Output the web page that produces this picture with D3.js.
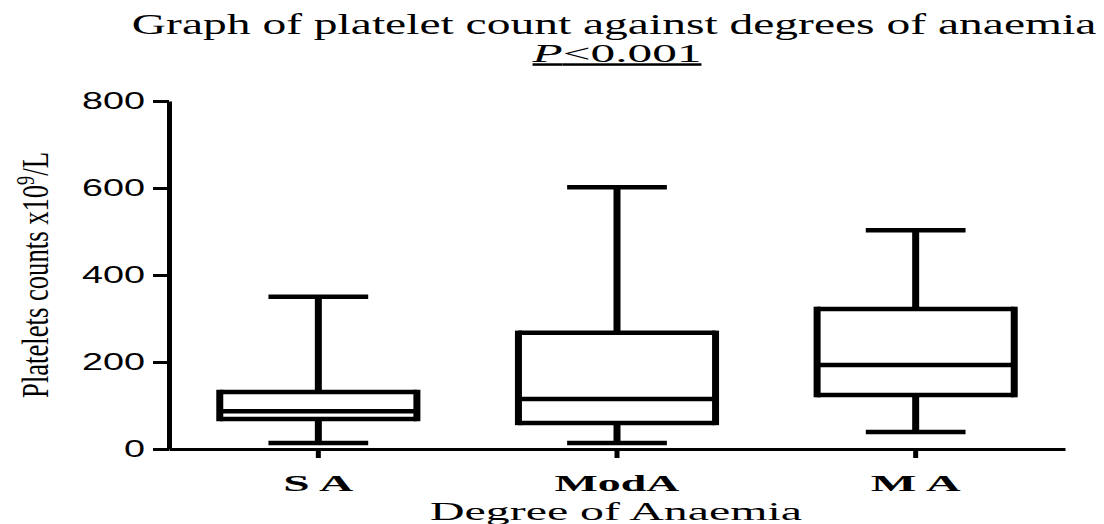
<!DOCTYPE html>
<html lang="en">
<head>
    <meta charset="UTF-8">
    <script src="https://d3js.org/d3.v7.min.js"></script>
    <title>Platelets vs anaemia</title>
    <style>
        body { margin: 0; background: #fff; }
        svg { display: block; }
        .serif { font-family: "Liberation Serif", "Times New Roman", serif; }
        .sans { font-family: "Liberation Sans", Arial, sans-serif; }
    </style>
</head>
<body>
    <div id="chart"></div>
    <script>
        // data
        var categories = ["S A", "ModA", "M A"];
        var mins = [14, 14, 39];
        var q1s = [69, 60, 124];
        var medians = [87, 115, 193];
        var q3s = [131, 267, 322];
        var maxs = [350, 602, 503];
        var yTicks = [0, 200, 400, 600, 800];

        var width = 1104, height = 524;

        var svg = d3.select("#chart")
            .append("svg")
            .attr("width", width)
            .attr("height", height);

        var x = d3.scaleBand()
            .domain(categories)
            .range([169, 1065]);

        var y = d3.scaleLinear()
            .domain([0, 800])
            .range([449, 101]);

        // picture is stretched sideways, so vertical strokes are thicker
        var vStroke = 7, hStroke = 4.5;
        var boxHalf = x.bandwidth() * 0.33;
        var capHalf = x.bandwidth() * 0.167;

        // helper: stretch a text horizontally to a given width
        function fit(t, px, py, w, rot) {
            var len = t.node().getComputedTextLength();
            var k = w / len;
            t.attr("transform", "translate(" + px + "," + py + ")" +
                (rot ? " rotate(" + rot + ")" : "") + " scale(" + k + ",1)");
        }

        // axes
        var yAxis = svg.append("g")
            .attr("transform", "translate(169,0)")
            .call(d3.axisLeft(y).tickValues(yTicks).tickSize(16).tickSizeOuter(0).tickFormat(""));
        yAxis.select(".domain").attr("stroke-width", 5).attr("stroke", "#000");
        yAxis.selectAll(".tick line").attr("stroke-width", 3).attr("stroke", "#000");

        var xAxis = svg.append("g")
            .attr("transform", "translate(0,449)")
            .call(d3.axisBottom(x).tickSize(9).tickSizeOuter(0).tickFormat(""));
        xAxis.select(".domain").attr("stroke-width", 3).attr("stroke", "#000");
        xAxis.selectAll(".tick line").attr("stroke-width", 5).attr("stroke", "#000");

        // y tick labels
        yTicks.forEach(function (d) {
            var t = svg.append("text")
                .attr("class", "sans")
                .attr("font-size", 23)
                .attr("text-anchor", "end")
                .attr("dy", "0.36em")
                .text(d);
            fit(t, 145, y(d), String(d).length * 21);
        });

        // boxes
        var boxes = svg.selectAll(".box")
            .data(categories)
            .enter().append("g")
            .attr("class", "box")
            .attr("stroke", "#000")
            .attr("fill", "none");

        boxes.each(function (c, i) {
            var g = d3.select(this);
            var cx = x(c) + x.bandwidth() / 2;
            // whiskers
            g.append("line").attr("x1", cx).attr("x2", cx)
                .attr("y1", y(q3s[i])).attr("y2", y(maxs[i])).attr("stroke-width", vStroke);
            g.append("line").attr("x1", cx).attr("x2", cx)
                .attr("y1", y(q1s[i])).attr("y2", y(mins[i])).attr("stroke-width", vStroke);
            // caps
            [maxs[i], mins[i]].forEach(function (v) {
                g.append("line").attr("x1", cx - capHalf).attr("x2", cx + capHalf)
                    .attr("y1", y(v)).attr("y2", y(v)).attr("stroke-width", hStroke);
            });
            // box top / bottom / median
            [q3s[i], q1s[i], medians[i]].forEach(function (v) {
                g.append("line").attr("x1", cx - boxHalf).attr("x2", cx + boxHalf)
                    .attr("y1", y(v)).attr("y2", y(v)).attr("stroke-width", hStroke);
            });
            // box sides
            [cx - boxHalf, cx + boxHalf].forEach(function (sx) {
                g.append("line").attr("x1", sx).attr("x2", sx)
                    .attr("y1", y(q3s[i]) - hStroke / 2).attr("y2", y(q1s[i]) + hStroke / 2)
                    .attr("stroke-width", vStroke);
            });
        });

        // category labels
        var catWidths = [70, 125, 90];
        categories.forEach(function (c, i) {
            var t = svg.append("text")
                .attr("class", "serif")
                .attr("font-size", 24)
                .attr("font-weight", "bold")
                .attr("text-anchor", "middle")
                .text(c);
            fit(t, x(c) + x.bandwidth() / 2, 491, catWidths[i]);
        });

        // titles
        var title = svg.append("text")
            .attr("class", "serif")
            .attr("font-size", 29)
            .attr("text-anchor", "middle")
            .text("Graph of platelet count against degrees of anaemia");
        fit(title, 614, 34, 965);

        var pval = svg.append("text")
            .attr("class", "serif")
            .attr("font-size", 25)
            .attr("text-anchor", "middle")
            .attr("text-decoration", "underline");
        pval.append("tspan").attr("font-style", "italic").text("P");
        pval.append("tspan").text("<0.001");
        fit(pval, 617, 62, 169);

        var xTitle = svg.append("text")
            .attr("class", "serif")
            .attr("font-size", 26)
            .attr("text-anchor", "middle")
            .text("Degree of Anaemia");
        fit(xTitle, 616, 520, 372);

        var yTitle = svg.append("text")
            .attr("class", "serif")
            .attr("font-size", 38)
            .attr("text-anchor", "middle");
        yTitle.append("tspan").text("Platelets counts x10");
        yTitle.append("tspan").attr("font-size", 26).attr("dy", "-0.55em").text("9");
        yTitle.append("tspan").attr("dy", "0.38em").text("/L");
        fit(yTitle, 48, 275, 246, -90);
    </script>
</body>
</html>
